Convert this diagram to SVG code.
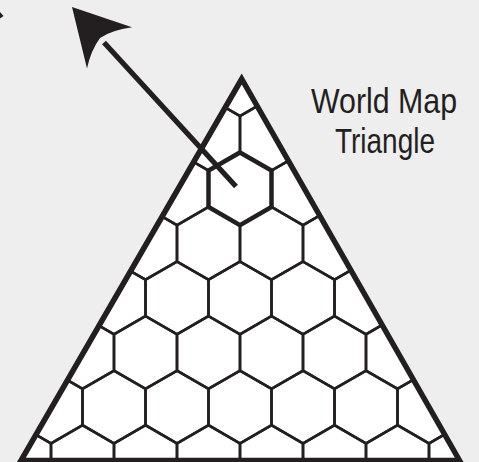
<svg xmlns="http://www.w3.org/2000/svg" xmlns:xlink="http://www.w3.org/1999/xlink" width="479" height="462" viewBox="0 0 479 462">
  <style>
    .hex { fill: none; stroke: #231f20; stroke-width: 2.6; stroke-linejoin: miter; }
    .hexhl { fill: none; stroke: #231f20; stroke-width: 4.5; stroke-linejoin: miter; }
    .tri { fill: none; stroke: #231f20; stroke-width: 5.5; stroke-linejoin: miter; stroke-miterlimit: 10; }
    .label { font-family: "Liberation Sans", Arial, sans-serif; font-size: 35px; fill: #231f20; }
    .arrow { stroke: #231f20; stroke-width: 5.2; fill: none; stroke-linecap: butt; }
    .ink { fill: #231f20; }
  </style>
  <defs>
    <polygon id="hx" points="0,-36.37 31.5,-18.19 31.5,18.19 0,36.37 -31.5,18.19 -31.5,-18.19"/>
    <clipPath id="triClip">
      <polygon points="241.7,79 21,460.5 459.5,460.5"/>
    </clipPath>
  </defs>
  <rect x="0" y="0" width="479" height="462" fill="#eeeeee"/>

  <g id="triangle">
    <polygon points="241.7,79 21,460.5 459.5,460.5" fill="#ffffff"/>
    <g id="hex-grid" clip-path="url(#triClip)">
      <use xlink:href="#hx" class="hex" x="177" y="79.68"/>
      <use xlink:href="#hx" class="hex" x="240" y="79.68"/>
      <use xlink:href="#hx" class="hex" x="303" y="79.68"/>
      <use xlink:href="#hx" class="hex" x="145.5" y="134.24"/>
      <use xlink:href="#hx" class="hex" x="208.5" y="134.24"/>
      <use xlink:href="#hx" class="hex" x="271.5" y="134.24"/>
      <use xlink:href="#hx" class="hex" x="334.5" y="134.24"/>
      <use xlink:href="#hx" class="hex" x="114" y="188.8"/>
      <use xlink:href="#hx" class="hex" x="177" y="188.8"/>
      <use xlink:href="#hx" class="hex" x="303" y="188.8"/>
      <use xlink:href="#hx" class="hex" x="366" y="188.8"/>
      <use xlink:href="#hx" class="hex" x="82.5" y="243.36"/>
      <use xlink:href="#hx" class="hex" x="145.5" y="243.36"/>
      <use xlink:href="#hx" class="hex" x="208.5" y="243.36"/>
      <use xlink:href="#hx" class="hex" x="271.5" y="243.36"/>
      <use xlink:href="#hx" class="hex" x="334.5" y="243.36"/>
      <use xlink:href="#hx" class="hex" x="397.5" y="243.36"/>
      <use xlink:href="#hx" class="hex" x="51" y="297.92"/>
      <use xlink:href="#hx" class="hex" x="114" y="297.92"/>
      <use xlink:href="#hx" class="hex" x="177" y="297.92"/>
      <use xlink:href="#hx" class="hex" x="240" y="297.92"/>
      <use xlink:href="#hx" class="hex" x="303" y="297.92"/>
      <use xlink:href="#hx" class="hex" x="366" y="297.92"/>
      <use xlink:href="#hx" class="hex" x="429" y="297.92"/>
      <use xlink:href="#hx" class="hex" x="19.5" y="352.48"/>
      <use xlink:href="#hx" class="hex" x="82.5" y="352.48"/>
      <use xlink:href="#hx" class="hex" x="145.5" y="352.48"/>
      <use xlink:href="#hx" class="hex" x="208.5" y="352.48"/>
      <use xlink:href="#hx" class="hex" x="271.5" y="352.48"/>
      <use xlink:href="#hx" class="hex" x="334.5" y="352.48"/>
      <use xlink:href="#hx" class="hex" x="397.5" y="352.48"/>
      <use xlink:href="#hx" class="hex" x="460.5" y="352.48"/>
      <use xlink:href="#hx" class="hex" x="-12" y="407.04"/>
      <use xlink:href="#hx" class="hex" x="51" y="407.04"/>
      <use xlink:href="#hx" class="hex" x="114" y="407.04"/>
      <use xlink:href="#hx" class="hex" x="177" y="407.04"/>
      <use xlink:href="#hx" class="hex" x="240" y="407.04"/>
      <use xlink:href="#hx" class="hex" x="303" y="407.04"/>
      <use xlink:href="#hx" class="hex" x="366" y="407.04"/>
      <use xlink:href="#hx" class="hex" x="429" y="407.04"/>
      <use xlink:href="#hx" class="hex" x="492" y="407.04"/>
      <use xlink:href="#hx" class="hex" x="19.5" y="461.6"/>
      <use xlink:href="#hx" class="hex" x="82.5" y="461.6"/>
      <use xlink:href="#hx" class="hex" x="145.5" y="461.6"/>
      <use xlink:href="#hx" class="hex" x="208.5" y="461.6"/>
      <use xlink:href="#hx" class="hex" x="271.5" y="461.6"/>
      <use xlink:href="#hx" class="hex" x="334.5" y="461.6"/>
      <use xlink:href="#hx" class="hex" x="397.5" y="461.6"/>
      <use xlink:href="#hx" class="hex" x="460.5" y="461.6"/>
    </g>
    <g id="highlight-hex">
      <use xlink:href="#hx" class="hexhl" x="240" y="188.8"/>
    </g>
    <polygon class="tri" points="241.7,79 21,460.5 459.5,460.5"/>
  </g>

  <g id="connectors">
    <line class="arrow" x1="236" y1="186.5" x2="104" y2="42.5"/>
    <path class="ink" d="M72,7 L132,27.3 Q112,30 100,38 Q91,50 87,68.5 Z"/>
    <polygon class="ink" points="0,12 3.5,16 0,18.5"/>
  </g>

  <g id="label">
    <text class="label" x="311" y="113" textLength="146" lengthAdjust="spacingAndGlyphs">World Map</text>
    <text class="label" x="335" y="153" textLength="100" lengthAdjust="spacingAndGlyphs">Triangle</text>
  </g>
</svg>
